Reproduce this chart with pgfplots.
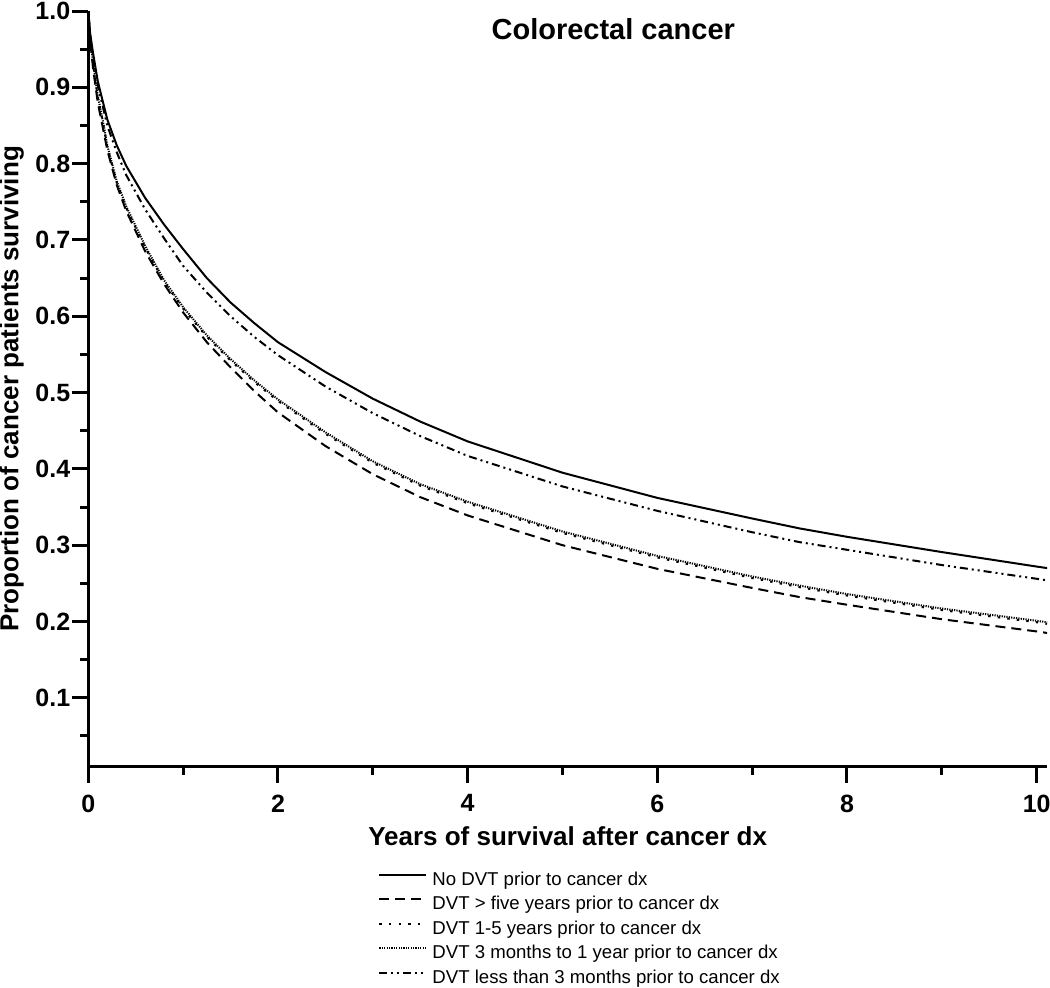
\documentclass[border=0pt]{standalone}
\usepackage{fontspec}
\setmainfont{Liberation Sans}
\usepackage{pgfplots}
\pgfplotsset{compat=1.18}
\begin{document}
\begin{tikzpicture}
\useasboundingbox (-44.15pt,-110.25pt) rectangle (480.85pt,383.25pt);
\begin{axis}[
  at={(0pt,0pt)}, anchor=south west,
  scale only axis, width=479.4pt, height=377.75pt,
  xmin=0, xmax=10.11, ymin=0.01, ymax=1.0,
  axis x line*=bottom, axis y line*=left,
  axis line style={line width=1.5pt,-},
  xtick={0,2,4,6,8,10}, minor xtick={1,3,5,7,9},
  ytick={0.1,0.2,0.3,0.4,0.5,0.6,0.7,0.8,0.9,1.0},
  minor ytick={0.05,0.15,0.25,0.35,0.45,0.55,0.65,0.75,0.85,0.95},
  tick align=outside,
  major tick length=8pt, minor tick length=4.2pt,
  every tick/.style={black,line width=1.5pt},
  yticklabel style={/pgf/number format/fixed, /pgf/number format/fixed zerofill, /pgf/number format/precision=1},
  /pgf/number format/assume math mode=true,
  ticklabel style={font=\bfseries\fontsize{12.5}{14}\selectfont},
  xticklabel style={yshift=-2.5pt},
  yticklabel style={xshift=2.5pt},
  xlabel={Years of survival after cancer dx},
  ylabel={Proportion of cancer patients surviving},
  every axis x label/.style={at={(axis description cs:0.5,0)}, anchor=base, yshift=-39.25pt},
  every axis y label/.style={at={(axis description cs:-0.0728,0.5)}, rotate=90, anchor=base},
  label style={font=\bfseries\fontsize{13}{15}\selectfont},
  legend style={at={(0.3022,-0.1383)}, anchor=north west, draw=none, fill=none,
    font=\fontsize{9.3}{11}\selectfont, row sep=3.25pt, column sep=2.5pt, inner sep=0pt,
    nodes={inner sep=0pt, text height=7pt, text depth=2pt},
    cells={anchor=west}},
  legend cell align=left,
  legend image code/.code={\draw[#1] (0pt,2.8pt) -- (23.5pt,2.8pt);},
  every axis plot/.append style={black, line width=1pt},
]
\addplot[solid] coordinates {
(0,1.0) (0.02,0.97) (0.05,0.945) (0.1,0.908) (0.2,0.858) (0.3,0.824) (0.4,0.797) (0.6,0.755) (0.8,0.72) (1.0,0.688) (1.25,0.65) (1.5,0.618) (1.75,0.591) (2,0.566) (2.5,0.527) (3,0.492) (3.5,0.462) (4,0.436) (5,0.395) (6,0.362) (7,0.335) (7.5,0.322) (8,0.311) (9,0.291) (10,0.272) (10.11,0.270)};
\addlegendentry{No DVT prior to cancer dx}
\addplot[dash pattern=on 5pt off 3pt] coordinates {
(0,1.0) (0.02,0.962) (0.05,0.925) (0.1,0.88) (0.2,0.818) (0.3,0.772) (0.4,0.738) (0.6,0.685) (0.8,0.642) (1.0,0.605) (1.25,0.566) (1.5,0.533) (1.75,0.502) (2,0.474) (2.5,0.43) (3,0.393) (3.5,0.363) (4,0.339) (5,0.3) (6,0.269) (7,0.244) (7.5,0.232) (8,0.222) (9,0.203) (10,0.187) (10.11,0.185)};
\addlegendentry{DVT > five years prior to cancer dx}
\addplot[dash pattern=on 1.2pt off 3.6pt] coordinates {
(0,1.0) (0.02,0.965) (0.05,0.93) (0.1,0.887) (0.16,0.85) (0.2,0.822) (0.3,0.775) (0.4,0.742) (0.6,0.69) (0.8,0.645) (1.0,0.61) (1.25,0.573) (1.5,0.542) (1.75,0.514) (2,0.489) (2.5,0.446) (3,0.408) (3.5,0.378) (4,0.355) (5,0.316) (6,0.284) (7,0.257) (7.5,0.245) (8,0.234) (9,0.215) (10,0.199) (10.11,0.197)};
\addlegendentry{DVT 1-5 years prior to cancer dx}
\addplot[dash pattern=on 0.6pt off 0.6pt] coordinates {
(0,1.0) (0.02,0.966) (0.05,0.932) (0.1,0.889) (0.16,0.852) (0.2,0.824) (0.3,0.777) (0.4,0.744) (0.6,0.692) (0.8,0.647) (1.0,0.612) (1.25,0.575) (1.5,0.544) (1.75,0.516) (2,0.491) (2.5,0.448) (3,0.41) (3.5,0.38) (4,0.357) (5,0.318) (6,0.286) (7,0.259) (7.5,0.247) (8,0.236) (9,0.217) (10,0.201) (10.11,0.199)};
\addlegendentry{DVT 3 months to 1 year prior to cancer dx}
\addplot[dash pattern=on 4pt off 2pt on 1pt off 2pt on 1pt off 2pt] coordinates {
(0,1.0) (0.02,0.968) (0.05,0.94) (0.1,0.903) (0.2,0.85) (0.3,0.815) (0.4,0.785) (0.6,0.74) (0.8,0.702) (1.0,0.666) (1.25,0.631) (1.5,0.6) (1.75,0.573) (2,0.549) (2.5,0.508) (3,0.473) (3.5,0.443) (4,0.417) (5,0.377) (6,0.345) (7,0.317) (7.5,0.304) (8,0.294) (9,0.274) (10,0.256) (10.11,0.254)};
\addlegendentry{DVT less than 3 months prior to cancer dx}
\node[font=\bfseries\fontsize{14.5}{16}\selectfont, anchor=base] at (axis cs:5.536,0.963) {Colorectal cancer};
\end{axis}
\end{tikzpicture}
\end{document}
